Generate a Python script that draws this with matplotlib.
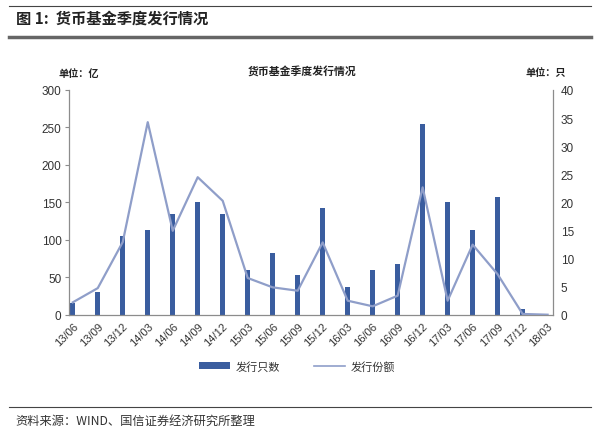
import matplotlib
matplotlib.use("Agg")
import matplotlib.pyplot as plt
from matplotlib.lines import Line2D
from matplotlib.patches import Patch

plt.rcParams['font.family'] = ['Liberation Sans', 'Noto Sans CJK SC', 'DejaVu Sans']
CJK = ['Noto Sans CJK SC', 'DejaVu Sans']

categories = ['13/06', '13/09', '13/12', '14/03', '14/06', '14/09', '14/12', '15/03', '15/06', '15/09',
              '15/12', '16/03', '16/06', '16/09', '16/12', '17/03', '17/06', '17/09', '17/12', '18/03']
issue_count = [2, 4, 14, 15, 18, 20, 18, 8, 11, 7, 19, 5, 8, 9, 34, 20, 15, 21, 1, 0]
issue_amount = [16.5, 35.5, 97, 257, 112, 183.5, 152, 49, 36.5, 32, 96.5, 18.7, 11.2, 25.4,
                170, 18.7, 93.5, 54, 1, 0]
left_ticks = [0, 50, 100, 150, 200, 250, 300]
right_ticks = [0, 5, 10, 15, 20, 25, 30, 35, 40]

bar_color = '#3A5D9F'
line_color = '#8F9EC9'
spine_color = '#8C8C8C'
text_color = '#333333'

fig = plt.figure(figsize=(6.0, 4.31), dpi=100)
ax = fig.add_axes([0.1142, 0.2675, 0.921 - 0.1142, 0.789 - 0.2675])
ax2 = ax.twinx()

x = list(range(len(categories)))
ax2.bar(x, issue_count, width=0.21, color=bar_color, zorder=2)
ax.plot(x, issue_amount, color=line_color, lw=1.6, zorder=3)

# line on top of bars
ax.set_zorder(ax2.get_zorder() + 1)
ax.patch.set_visible(False)

ax.set_xlim(-0.17, 19.2)
ax.set_ylim(0, 300)
ax2.set_ylim(0, 40)
ax.set_yticks(left_ticks)
ax2.set_yticks(right_ticks)
ax.set_xticks(x)
ax.set_xticklabels(categories, rotation=45, ha='right', rotation_mode='anchor', fontsize=8, color=text_color)
ax.tick_params(axis='x', length=0, pad=4)
ax.tick_params(axis='y', length=3, color=spine_color, labelsize=8.5, labelcolor=text_color, pad=2)
ax2.tick_params(axis='y', length=0, labelsize=8.5, labelcolor=text_color, pad=6)

for a in (ax, ax2):
    for s in ['top']:
        a.spines[s].set_visible(False)
    for s in ['left', 'right', 'bottom']:
        a.spines[s].set_color(spine_color)
        a.spines[s].set_linewidth(0.9)
ax.spines['right'].set_visible(False)
ax2.spines['left'].set_visible(False)
ax2.spines['bottom'].set_visible(False)

# header / footer
fig.add_artist(Line2D([0.015, 0.985], [1 - 7/431, 1 - 7/431], color='#444444', lw=0.8))
fig.text(0.027, 1 - 19/431, '图 1:  货币基金季度发行情况', fontsize=11, fontweight='bold',
         family=CJK, va='center', ha='left', color='#222222')
fig.add_artist(Line2D([0.015, 0.985], [1 - 38/431, 1 - 38/431], color='#666666', lw=2.5))

fig.text(0.503, 1 - 71/431, '货币基金季度发行情况', fontsize=7.8, fontweight='bold', family=CJK,
         ha='center', va='center', color='#222222')
fig.text(0.097, 1 - 74/431, '单位：亿', fontsize=7.3, fontweight='bold', family=CJK,
         ha='left', va='center', color='#222222')
fig.text(0.875, 1 - 73/431, '单位：只', fontsize=7.3, fontweight='bold', family=CJK,
         ha='left', va='center', color='#222222')

handles = [Patch(facecolor=bar_color, edgecolor='none'), Line2D([], [], color=line_color, lw=1.2)]
leg = fig.legend(handles, ['发行只数', '发行份额'], loc='center', bbox_to_anchor=(0.495, 1 - 367/431),
                 ncol=2, frameon=False, prop={'family': CJK, 'size': 8}, handlelength=2.8,
                 handleheight=0.5, columnspacing=3.0, handletextpad=0.5)
for t in leg.get_texts():
    t.set_color('#333333')

fig.add_artist(Line2D([0.015, 0.985], [1 - 408/431, 1 - 408/431], color='#444444', lw=0.8))
fig.text(0.025, 1 - 421/431, '资料来源：WIND、国信证券经济研究所整理', fontsize=8.8, family=CJK,
         ha='left', va='center', color='#333333')

fig.savefig('out.png', dpi=100)
